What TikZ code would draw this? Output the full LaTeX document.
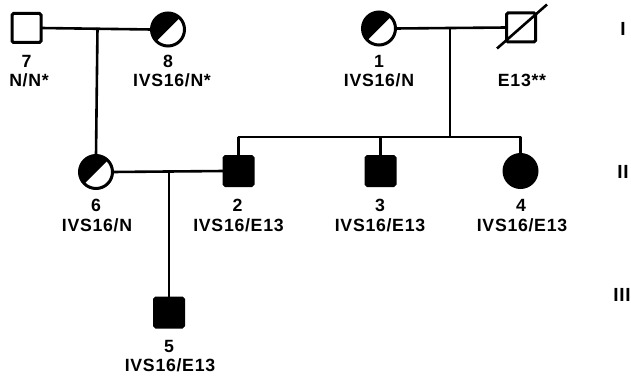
\documentclass[tikz,border=0pt]{standalone}
\usepackage{fontspec}
\setmainfont{Liberation Sans}[LetterSpace=4]
\usetikzlibrary{calc}
\tikzset{
  x=1pt, y=1pt,
  line/.style={line width=2.6pt},
  male/.style={draw, line width=3pt, rectangle, minimum size=29pt, inner sep=0pt, outer sep=0pt, rounded corners=1.5pt},
  female/.style={draw, line width=3pt, circle, minimum size=33pt, inner sep=0pt, outer sep=0pt},
  affected/.style={fill=black},
  carrier/.style={path picture={
      \coordinate (pc) at (path picture bounding box.center);
      \fill[black] ($(pc)+(45:30)$) -- ($(pc)+(45:30)+(135:30)$)
                   -- ($(pc)+(225:30)+(135:30)$) -- ($(pc)+(225:30)$) -- cycle;}},
  lbl/.style={font=\bfseries\fontsize{17.7}{18}\selectfont, inner sep=0pt, anchor=center},
  gen/.style={font=\bfseries\fontsize{19}{20}\selectfont, inner sep=0pt, anchor=center}
}
\begin{document}
\begin{tikzpicture}
\useasboundingbox (0,0) rectangle (631,-377);

% generation I
\node[male] (p7) at (26.5,-28) {};
\node[female, carrier] (p8) at (168,-29.5) {};
\node[female, carrier] (p1) at (379,-28.5) {};
\node[male] (p0) at (521,-27.5) {};
\draw[line] ($(p0.center)+(-24,-21)$) -- ($(p0.center)+(26,23)$);

% generation II
\node[female, carrier] (p6) at (96,-172) {};
\node[male, affected] (p2) at (238.5,-171) {};
\node[male, affected] (p3) at (380.5,-171) {};
\node[female, affected] (p4) at (520.5,-171) {};

% generation III
\node[male, affected] (p5) at (169,-312.5) {};

% matings and lines of descent
\draw[line] (p7.east) -- (p8.west);
\coordinate (m78) at (97.5,-28);
\draw[line] (m78) -- (p6.north);

\draw[line] (p1.east) -- (p0.west);
\coordinate (m10) at (450,-28);
\coordinate (s1) at (450,-137);
\draw[line] (m10) -- (s1);
\coordinate (sl) at (238,-137);
\coordinate (sr) at (521,-137);
\draw[line] (p2.north) |- (sl) -- (sr) -| (p4.north);
\draw[line] (p3.north) -- (p3.north |- sl);

\draw[line] (p6.east) -- (p2.west);
\coordinate (m62) at (169,-172);
\draw[line] (m62) -- (p5.north);

% identifiers and genotypes
\node[lbl] (n7) at (26.5,-61) {7};
\node[lbl] (g7) at (29,-80) {N/N*};
\node[lbl] (n8) at (168,-61) {8};
\node[lbl] (g8) at (172,-80) {IVS16/N*};
\node[lbl] (n1) at (379,-61) {1};
\node[lbl] (g1) at (379,-80) {IVS16/N};
\node[lbl] (g0) at (522,-80) {E13**};

\node[lbl] (n6) at (96,-205) {6};
\node[lbl] (g6) at (97,-225) {IVS16/N};
\node[lbl] (n2) at (237.5,-205) {2};
\node[lbl] (g2) at (238.5,-225) {IVS16/E13};
\node[lbl] (n3) at (380,-205) {3};
\node[lbl] (g3) at (380,-225) {IVS16/E13};
\node[lbl] (n4) at (521,-205) {4};
\node[lbl] (g4) at (522,-225) {IVS16/E13};

\node[lbl] (n5) at (169,-346) {5};
\node[lbl] (g5) at (170,-365) {IVS16/E13};

% generation numerals
\node[gen] (gI) at (623,-29) {I};
\node[gen] (gII) at (623,-172) {II};
\node[gen] (gIII) at (622,-295) {III};
\end{tikzpicture}
\end{document}
